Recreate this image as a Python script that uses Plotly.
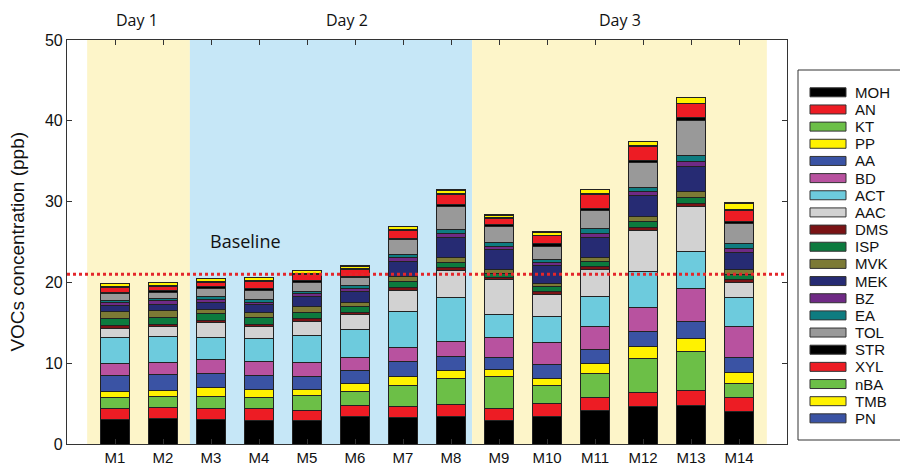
import plotly.graph_objects as go

samples = ["M1", "M2", "M3", "M4", "M5", "M6", "M7", "M8", "M9", "M10", "M11", "M12", "M13", "M14"]

MOH = [3.0, 3.2, 3.0, 2.9, 2.9, 3.45, 3.3, 3.45, 2.85, 3.45, 4.2, 4.7, 4.8, 4.0]
AN  = [1.4, 1.3, 1.4, 1.45, 1.3, 1.35, 1.4, 1.5, 1.55, 1.55, 1.55, 1.7, 1.85, 1.75]
KT  = [1.3, 1.35, 1.45, 1.35, 1.75, 1.75, 2.6, 3.2, 3.9, 2.25, 2.95, 4.2, 4.85, 1.8]
PP  = [0.8, 0.8, 1.15, 1.1, 0.85, 0.9, 1.1, 0.9, 0.9, 0.9, 1.3, 1.45, 1.5, 1.25]
AA  = [2.0, 2.0, 1.75, 1.65, 1.6, 1.65, 1.85, 1.75, 1.5, 1.75, 1.65, 1.85, 2.15, 1.85]
BD  = [1.45, 1.4, 1.75, 1.75, 1.65, 1.55, 1.7, 1.85, 2.5, 2.7, 2.95, 2.95, 4.05, 3.85]
ACT = [3.2, 3.3, 2.7, 2.8, 3.4, 3.5, 4.4, 5.45, 2.85, 3.2, 3.65, 4.45, 4.6, 3.6]
AAC = [1.2, 1.15, 1.8, 1.55, 1.75, 1.85, 2.7, 3.4, 4.3, 2.75, 3.4, 5.15, 5.6, 1.85]
DMS = [0.3, 0.3, 0.3, 0.3, 0.3, 0.3, 0.3, 0.35, 0.3, 0.35, 0.35, 0.3, 0.35, 0.4]
ISP = [0.9, 0.9, 0.8, 0.8, 0.75, 0.7, 0.75, 0.6, 0.5, 0.55, 0.6, 0.75, 0.75, 0.65]
MVK = [0.8, 0.8, 0.55, 0.6, 0.8, 0.55, 0.6, 0.6, 0.4, 0.4, 0.5, 0.6, 0.7, 0.6]
MEK = [0.8, 0.8, 0.9, 1.0, 1.15, 1.35, 1.85, 2.55, 2.5, 2.2, 2.5, 2.6, 3.15, 2.05]
BZ  = [0.4, 0.4, 0.35, 0.3, 0.4, 0.35, 0.55, 0.4, 0.35, 0.4, 0.5, 0.5, 0.6, 0.55]
EA  = [0.25, 0.3, 0.35, 0.3, 0.3, 0.35, 0.4, 0.6, 0.5, 0.4, 0.55, 0.6, 0.8, 0.6]
TOL = [0.8, 0.75, 1.0, 1.15, 1.1, 1.0, 1.75, 2.75, 2.05, 1.65, 2.25, 3.0, 4.3, 2.5]
STR = [0.2, 0.2, 0.2, 0.2, 0.2, 0.15, 0.2, 0.25, 0.25, 0.3, 0.2, 0.3, 0.3, 0.2]
XYL = [0.6, 0.6, 0.55, 0.9, 0.8, 0.85, 1.0, 1.25, 0.7, 0.95, 1.75, 1.75, 1.75, 1.45]
nBA = [0.1, 0.1, 0.1, 0.1, 0.1, 0.1, 0.1, 0.1, 0.1, 0.1, 0.1, 0.1, 0.1, 0.1]
TMB = [0.35, 0.3, 0.35, 0.35, 0.35, 0.3, 0.35, 0.45, 0.3, 0.35, 0.5, 0.5, 0.65, 0.75]
PN  = [0.05, 0.05, 0.05, 0.05, 0.05, 0.05, 0.05, 0.05, 0.05, 0.05, 0.05, 0.05, 0.05, 0.05]

species = ["MOH", "AN", "KT", "PP", "AA", "BD", "ACT", "AAC", "DMS", "ISP",
           "MVK", "MEK", "BZ", "EA", "TOL", "STR", "XYL", "nBA", "TMB", "PN"]
values = [MOH, AN, KT, PP, AA, BD, ACT, AAC, DMS, ISP, MVK, MEK, BZ, EA, TOL, STR, XYL, nBA, TMB, PN]
colors = ["#000000", "#ED1C24", "#6CBF47", "#FFF200", "#3A53A4", "#B8529F", "#6DCBDD",
          "#D2D2D2", "#7A1315", "#0C7A3E", "#7C7A35", "#262B73", "#6F2A85", "#0E7C80",
          "#999999", "#000000", "#ED1C24", "#6CBF47", "#FFF200", "#3A53A4"]

day_labels = ["Day 1", "Day 2", "Day 3"]
day_label_x = [0.46, 4.83, 10.52]
day_spans = [(-0.58, 1.56), (1.56, 7.44), (7.44, 13.58)]
day_colors = ["#FDF5C9", "#C6E7F7", "#FDF5C9"]
baseline = 21

fig = go.Figure()
for name, vals, col in zip(species, values, colors):
    fig.add_trace(go.Bar(x=samples, y=vals, name=name, marker_color=col,
                         marker_line_color="#222222", marker_line_width=1,
                         width=0.6, showlegend=False))

shapes = []
for (x0, x1), c in zip(day_spans, day_colors):
    shapes.append(dict(type="rect", xref="x", yref="paper", x0=x0, x1=x1, y0=0, y1=1,
                       fillcolor=c, line_width=0, layer="below"))
shapes.append(dict(type="line", xref="paper", yref="y", x0=0, x1=1, y0=baseline, y1=baseline,
                   line=dict(color="#E3262B", width=3, dash="dot")))

annotations = []
for lab, lx in zip(day_labels, day_label_x):
    annotations.append(dict(text=lab, x=lx, y=1.05, xref="x", yref="paper", showarrow=False,
                            xanchor="center", yanchor="middle",
                            font=dict(family="Open Sans", size=16, color="#111")))
annotations.append(dict(text="Baseline", x=2.71, y=25.1, xref="x", yref="y", showarrow=False,
                        xanchor="center", yanchor="middle",
                        font=dict(family="Open Sans", size=18, color="#111")))
annotations.append(dict(text="VOCs concentration (ppb)", x=-0.07, y=0.5, xref="paper", yref="paper",
                        textangle=-90, showarrow=False, xanchor="center", yanchor="middle",
                        font=dict(family="Liberation Sans", size=19, color="#111")))

# manual legend
W, H = 720.0, 404.0
def px(xp):
    return (xp - 67) / W
def py(yp):
    return (444 - yp) / H
shapes.append(dict(type="rect", xref="paper", yref="paper", x0=px(798), x1=px(905),
                   y0=py(440), y1=py(70), line=dict(color="#333", width=1), fillcolor="white"))
for i, (name, col) in enumerate(zip(species, colors)):
    yc = 92.3 + i * 17.16
    shapes.append(dict(type="rect", xref="paper", yref="paper", x0=px(810), x1=px(846),
                       y0=py(yc + 4.5), y1=py(yc - 4.5), fillcolor=col,
                       line=dict(color="#333", width=1)))
    annotations.append(dict(text=name, x=px(853), y=py(yc), xref="paper", yref="paper",
                            showarrow=False, xanchor="left", yanchor="middle",
                            font=dict(family="Liberation Sans", size=15, color="#111")))

fig.update_layout(
    width=900, height=467,
    margin=dict(l=67, r=113, t=40, b=23, autoexpand=False),
    barmode="stack",
    plot_bgcolor="white", paper_bgcolor="white",
    shapes=shapes, annotations=annotations,
    showlegend=False,
    font=dict(family="Liberation Sans", color="#111"),
)
fig.update_xaxes(range=[-1, 14], showline=True, linecolor="#333", linewidth=1.2, mirror="ticks",
                 ticks="inside", ticklen=5, tickcolor="#333", showgrid=False, automargin=False,
                 tickfont=dict(family="Liberation Sans", size=15, color="#111"))
fig.update_yaxes(range=[0, 50], dtick=10, showline=True, linecolor="#333", linewidth=1.2, mirror="ticks",
                 ticks="inside", ticklen=5, tickcolor="#333", showgrid=False, zeroline=False,
                 automargin=False,
                 tickfont=dict(family="Liberation Sans", size=16, color="#111"))

fig.write_html("out.html")
